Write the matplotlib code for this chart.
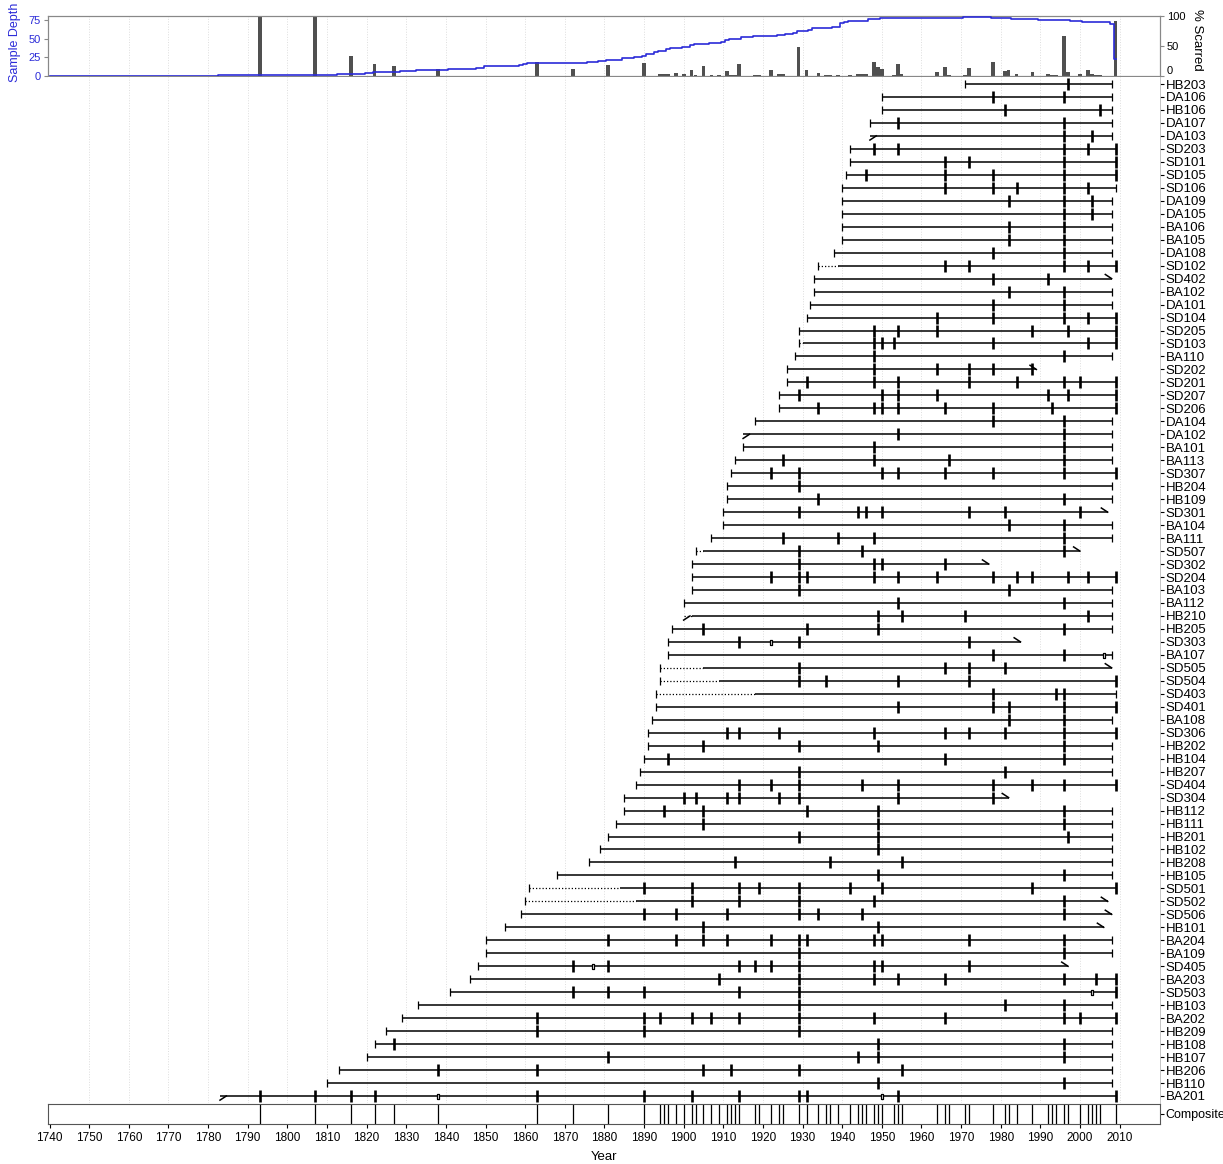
import numpy as np
import matplotlib
matplotlib.use('Agg')
from matplotlib import pyplot as plt
from matplotlib.path import Path

plt.rcParams['font.family'] = ['Liberation Sans', 'DejaVu Sans']

# fire history series, top to bottom
SERIES = [
  'HB203', 'DA106', 'HB106', 'DA107', 'DA103', 'SD203', 'SD101', 'SD105', 'SD106', 'DA109',
  'DA105', 'BA106', 'BA105', 'DA108', 'SD102', 'SD402', 'BA102', 'DA101', 'SD104', 'SD205',
  'SD103', 'BA110', 'SD202', 'SD201', 'SD207', 'SD206', 'DA104', 'DA102', 'BA101', 'BA113',
  'SD307', 'HB204', 'HB109', 'SD301', 'BA104', 'BA111', 'SD507', 'SD302', 'SD204', 'BA103',
  'BA112', 'HB210', 'HB205', 'SD303', 'BA107', 'SD505', 'SD504', 'SD403', 'SD401', 'BA108',
  'SD306', 'HB202', 'HB104', 'HB207', 'SD404', 'SD304', 'HB112', 'HB111', 'HB201', 'HB102',
  'HB208', 'HB105', 'SD501', 'SD502', 'SD506', 'HB101', 'BA204', 'BA109', 'SD405', 'BA203',
  'SD503', 'HB103', 'BA202', 'HB209', 'HB108', 'HB107', 'HB206', 'HB110', 'BA201',
]

FIRST_YEAR = [
  1971, 1950, 1950, 1947, 1947, 1942, 1942, 1941, 1940, 1940,
  1940, 1940, 1940, 1938, 1934, 1933, 1933, 1932, 1931, 1929,
  1929, 1928, 1926, 1926, 1924, 1924, 1918, 1915, 1915, 1913,
  1912, 1911, 1911, 1910, 1910, 1907, 1903, 1902, 1902, 1902,
  1900, 1900, 1897, 1896, 1896, 1894, 1894, 1893, 1893, 1892,
  1891, 1891, 1890, 1889, 1888, 1885, 1885, 1883, 1881, 1879,
  1876, 1868, 1861, 1860, 1859, 1855, 1850, 1850, 1848, 1846,
  1841, 1833, 1829, 1825, 1822, 1820, 1813, 1810, 1783,
]

LAST_YEAR = [
  2008, 2008, 2008, 2008, 2008, 2009, 2009, 2009, 2009, 2008,
  2008, 2008, 2008, 2008, 2009, 2008, 2008, 2008, 2009, 2009,
  2009, 2008, 1989, 2009, 2009, 2009, 2008, 2008, 2008, 2008,
  2009, 2008, 2008, 2007, 2008, 2008, 2000, 1977, 2009, 2008,
  2008, 2008, 2008, 1985, 2008, 2008, 2009, 2009, 2009, 2008,
  2009, 2008, 2008, 2008, 2009, 1982, 2008, 2008, 2008, 2008,
  2008, 2008, 2009, 2007, 2008, 2006, 2008, 2008, 1997, 2009,
  2009, 2008, 2009, 2008, 2008, 2008, 2008, 2008, 2009,
]

SCAR_YEARS = [
  [1997],
  [1978, 1996],
  [1981, 2005],
  [1954, 1996],
  [1996, 2003],
  [1948, 1954, 1996, 2002, 2009],
  [1966, 1972, 1996, 2009],
  [1946, 1966, 1978, 1996, 2009],
  [1966, 1978, 1984, 1996, 2002],
  [1982, 1996, 2003],
  [1996, 2003],
  [1982, 1996],
  [1982, 1996],
  [1978, 1996],
  [1966, 1972, 1996, 2002, 2009],
  [1978, 1992],
  [1982, 1996],
  [1978, 1996],
  [1964, 1978, 1996, 2002, 2009],
  [1948, 1954, 1964, 1988, 1997, 2009],
  [1948, 1950, 1953, 1978, 2002, 2009],
  [1948, 1996],
  [1948, 1964, 1972, 1978, 1988],
  [1931, 1948, 1954, 1972, 1984, 1996, 2000, 2009],
  [1929, 1950, 1954, 1964, 1992, 1997, 2009],
  [1934, 1948, 1950, 1954, 1966, 1978, 1993, 2009],
  [1978, 1996],
  [1954, 1996],
  [1948, 1996],
  [1925, 1948, 1967, 1996],
  [1922, 1929, 1950, 1954, 1966, 1978, 1996, 2009],
  [1929],
  [1934, 1996],
  [1929, 1944, 1946, 1950, 1972, 1981, 2000],
  [1982, 1996],
  [1925, 1939, 1948, 1996],
  [1929, 1945, 1996],
  [1929, 1948, 1950, 1966],
  [1922, 1929, 1931, 1948, 1954, 1964, 1978, 1984, 1988, 1997, 2002, 2009],
  [1929, 1982],
  [1954, 1996],
  [1949, 1955, 1971, 2002],
  [1905, 1931, 1949, 1996],
  [1914, 1929, 1972],
  [1978, 1996],
  [1929, 1966, 1972, 1981],
  [1929, 1936, 1954, 1972, 2009],
  [1978, 1994, 1996],
  [1954, 1978, 1982, 1996, 2009],
  [1982, 1996],
  [1911, 1914, 1924, 1948, 1966, 1972, 1981, 1996, 2009],
  [1905, 1929, 1949, 1996],
  [1896, 1966, 1996],
  [1929, 1981],
  [1914, 1922, 1929, 1945, 1954, 1978, 1988, 1996, 2009],
  [1900, 1903, 1911, 1914, 1924, 1929, 1954, 1978],
  [1895, 1905, 1931, 1949, 1996],
  [1905, 1949, 1996],
  [1929, 1949, 1997],
  [1949],
  [1913, 1937, 1955],
  [1949, 1996],
  [1890, 1902, 1914, 1919, 1929, 1942, 1950, 1988, 2009],
  [1902, 1914, 1929, 1948, 1996],
  [1890, 1898, 1911, 1929, 1934, 1945, 1996],
  [1905, 1949],
  [1881, 1898, 1905, 1911, 1922, 1929, 1931, 1948, 1950, 1972, 1996],
  [1929, 1996],
  [1872, 1881, 1914, 1918, 1922, 1929, 1948, 1950, 1972],
  [1909, 1929, 1948, 1954, 1966, 1996, 2004, 2009],
  [1872, 1881, 1890, 1914, 1929, 2009],
  [1929, 1981, 1996],
  [1863, 1890, 1894, 1902, 1907, 1914, 1929, 1948, 1966, 1996, 2000, 2009],
  [1863, 1890, 1929],
  [1827, 1949, 1996],
  [1881, 1944, 1949, 1996],
  [1838, 1863, 1905, 1912, 1929, 1955],
  [1949, 1996],
  [1793, 1807, 1816, 1822, 1863, 1890, 1902, 1914, 1929, 1931, 1954, 2009],
]

INJURY_YEARS = {
  'SD303': [1922],
  'BA107': [2006],
  'SD405': [1877],
  'SD503': [2003],
  'BA201': [1838, 1950],
}

NO_PITH = ['DA103', 'DA102', 'HB210', 'BA201']
NO_BARK = ['SD402', 'SD202', 'SD301', 'SD507', 'SD302', 'SD303', 'SD505',
           'SD304', 'SD502', 'SD506', 'HB101', 'SD405']

# years before which the series is not recording (dotted)
RECORDER_FROM = {
  'SD102': 1939, 'SD103': 1930, 'SD507': 1905, 'HB210': 1902, 'SD505': 1905,
  'SD504': 1909, 'SD403': 1918, 'SD501': 1884, 'SD502': 1888,
}

W, H = 1223, 1164
X_MIN, X_MAX = 1739.6, 2020.2
BLUE = '#2b2bd8'


def px_axes(fig, left, top, right, bottom):
  return fig.add_axes([left / W, 1 - bottom / H, (right - left) / W, (bottom - top) / H])


fig = plt.figure(figsize=(W / 100, H / 100), dpi=100)

years = np.arange(1740, 2010)
depth = np.array([sum(f <= y <= l for f, l in zip(FIRST_YEAR, LAST_YEAR)) for y in years])
scarred = np.array([sum(y in s for s in SCAR_YEARS) for y in years])
pct = np.where(depth > 0, 100.0 * scarred / np.maximum(depth, 1), 0)

# sample depth / percent scarred panel
ax_pct = px_axes(fig, 48, 16, 1160, 76)
ax_depth = ax_pct.twinx()

ax_pct.bar(years, pct, width=0.95, color='#505050', zorder=2)
ax_pct.set_ylim(0, 100)
ax_pct.set_xlim(X_MIN, X_MAX)
ax_pct.yaxis.tick_right()
ax_pct.set_yticks([0, 50, 100])
pct_labels = ax_pct.set_yticklabels(['0', '50', '100'])
pct_labels[0].set_va('bottom')
ax_pct.tick_params(axis='y', labelsize=8, length=3, pad=2, colors='#888888', labelcolor='black')
ax_pct.tick_params(axis='x', bottom=False, labelbottom=False)
for x in range(1750, 2020, 10):
  ax_pct.axvline(x, color='#dddddd', ls=':', lw=0.7, zorder=0)

ax_depth.step(years, depth, where='mid', color=BLUE, lw=1.2, zorder=3)
ax_depth.set_ylim(0, 80.5)
ax_depth.set_xlim(X_MIN, X_MAX)
ax_depth.yaxis.tick_left()
ax_depth.set_yticks([0, 25, 50, 75])
ax_depth.tick_params(axis='y', labelsize=8, length=3, pad=2, colors='#888888', labelcolor=BLUE)
for a in (ax_pct, ax_depth):
  for sp in a.spines.values():
    sp.set_color('#888888')
    sp.set_linewidth(0.8)

fig.text(15 / W, 1 - 42 / H, 'Sample Depth', rotation=90, color=BLUE,
         fontsize=9, ha='center', va='center')
fig.text(1197 / W, 1 - 40 / H, '% Scarred', rotation=270, color='black',
         fontsize=9.5, ha='center', va='center')

# series panel
ax = px_axes(fig, 48, 77, 1160, 1103)
rows = np.arange(1, len(SERIES) + 1)
injury_marker = Path([(-0.45, -1), (0.45, -1), (0.45, 1), (-0.45, 1), (-0.45, -1)])

for row, name, first, last, scars in zip(rows, SERIES, FIRST_YEAR, LAST_YEAR, SCAR_YEARS):
  start_solid = RECORDER_FROM.get(name, first)
  if start_solid > first:
    ax.plot([first, start_solid], [row, row], color='black', lw=0.9, ls=(0, (1, 1.6)))
  ax.plot([start_solid, last], [row, row], color='black', lw=1.1, solid_capstyle='butt')

  if name in NO_PITH:
    ax.plot([first, first + 1.6], [row + 0.32, row], color='black', lw=1.1)
  else:
    ax.plot(first, row, marker='|', ms=5.5, mew=0.9, color='black')

  if name in NO_BARK:
    ax.plot([last - 1.6, last], [row - 0.32, row], color='black', lw=1.1)
  else:
    ax.plot(last, row, marker='|', ms=5.5, mew=0.9, color='black')

  ax.plot(scars, [row] * len(scars), ls='none', marker='|', ms=8, mew=1.9, color='black')

  injuries = INJURY_YEARS.get(name, [])
  if injuries:
    ax.plot(injuries, [row] * len(injuries), ls='none', marker=injury_marker, ms=3.6,
            mew=0.9, mfc='white', mec='black')

ax.set_xlim(X_MIN, X_MAX)
ax.set_ylim(79 + 7 / 12.974, 1 - 7 / 12.974)
ax.set_yticks(rows)
ax.set_yticklabels(SERIES)
ax.yaxis.tick_right()
ax.tick_params(axis='y', labelsize=9.5, length=3, pad=1, width=0.8)
ax.tick_params(axis='x', bottom=False, labelbottom=False)
for name, sp in ax.spines.items():
  sp.set_visible(name == 'right')
ax.spines['right'].set_color('#bbbbbb')
ax.spines['right'].set_linewidth(0.6)
for x in range(1750, 2020, 10):
  ax.axvline(x, color='#dddddd', ls=':', lw=0.7, zorder=0)

# composite
composite_years = sorted(set(y for s in SCAR_YEARS for y in s))
ax_comp = px_axes(fig, 48, 1104, 1160, 1123.5)
ax_comp.vlines(composite_years, 0, 1, color='black', lw=0.9)
ax_comp.set_xlim(X_MIN, X_MAX)
ax_comp.set_ylim(0, 1)
ax_comp.set_xticks(range(1740, 2011, 10))
ax_comp.tick_params(axis='x', labelsize=8.5, length=3, pad=3)
ax_comp.yaxis.tick_right()
ax_comp.set_yticks([0.5])
ax_comp.set_yticklabels(['Composite'])
ax_comp.tick_params(axis='y', labelsize=9, length=3, pad=1)
for sp in ax_comp.spines.values():
  sp.set_color('#555555')
  sp.set_linewidth(0.8)
ax_comp.set_xlabel('Year', fontsize=9.5, labelpad=5)

fig.savefig('out.png', dpi=100)
